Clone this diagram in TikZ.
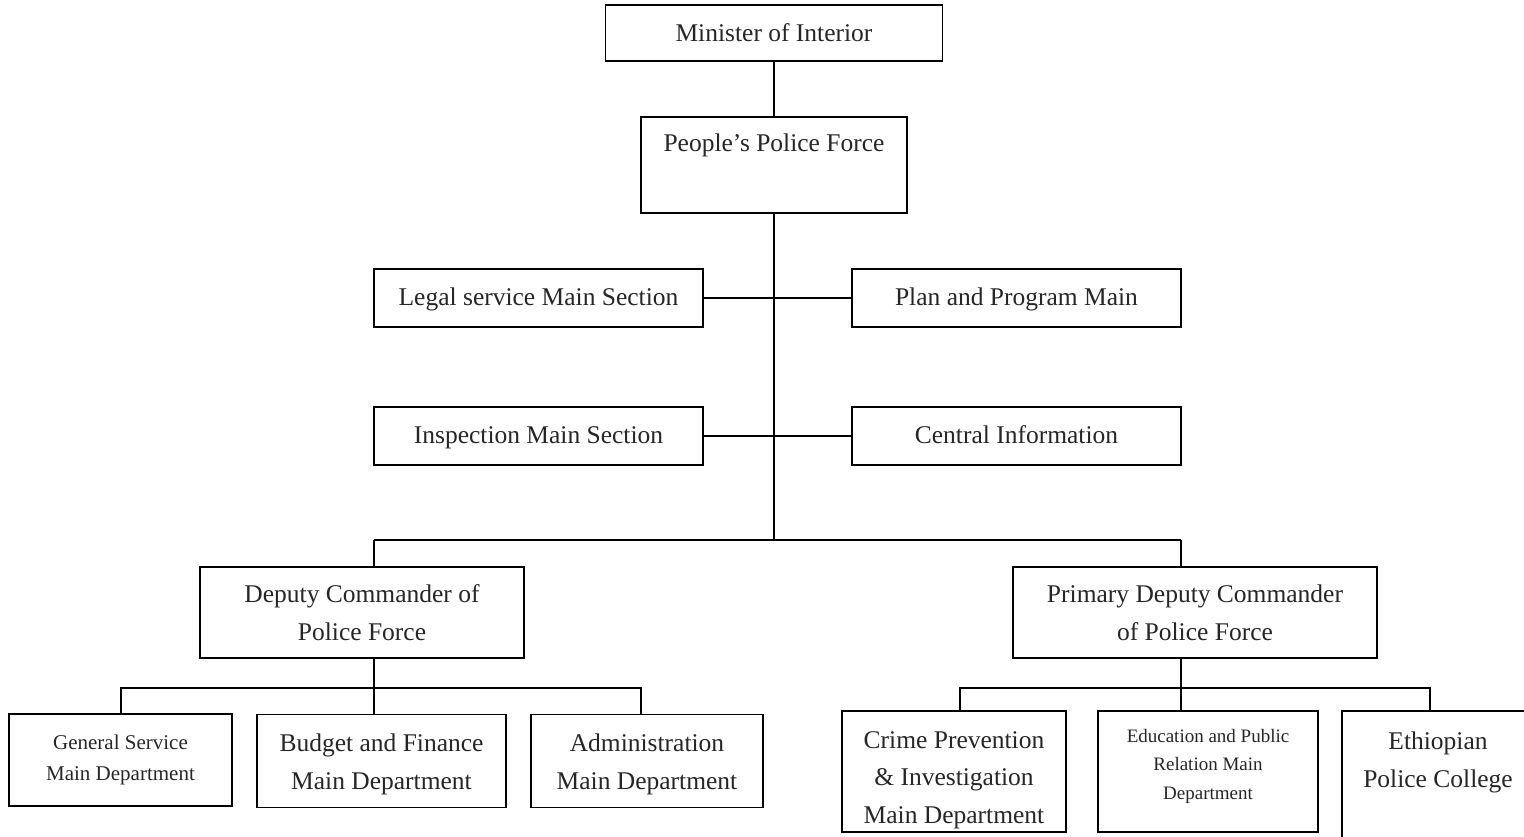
\documentclass[tikz,border=0pt]{standalone}
\usepackage{fontspec}
\setmainfont{Liberation Serif}
\tikzset{
  box/.style={draw, line width=1.5pt, inner sep=0pt, align=center, text=black!85},
  staff/.style={box, minimum width=329, minimum height=58, text height=17, text depth=2},
  wire/.style={line width=1.5pt},
  lbl/.style={inner sep=0pt, align=center, text=black!85},
}
\newcommand{\fA}{\fontsize{25.5}{38}\selectfont}
\begin{document}
\begin{tikzpicture}[x=1pt,y=-1pt]
\useasboundingbox (0,0) rectangle (1524,836);
% top
\node[box, minimum width=337, minimum height=56, font=\fA] (min) at (774,33) {Minister of Interior};
\node[box, minimum width=266, minimum height=96] (ppf) at (774,165) {};
\node[lbl, font=\fA, anchor=base] (ppft) at (774,151) {People’s Police Force};
% staff
\node[staff, font=\fA] (legal) at (538.5,298) {Legal service Main Section};
\node[staff, font=\fA] (plan) at (1016.5,298) {Plan and Program Main};
\node[staff, font=\fA] (insp) at (538.5,436) {Inspection Main Section};
\node[staff, font=\fA] (cent) at (1016.5,436) {Central Information};
% deputies
\node[box, minimum width=324, minimum height=91, font=\fA] (dep) at (362,612.5) {Deputy Commander of\\Police Force};
\node[box, minimum width=364, minimum height=91, font=\fA] (pdep) at (1195,612.5) {Primary Deputy Commander\\of Police Force};
% left departments
\node[box, minimum width=223, minimum height=92, font=\fontsize{21}{31}\selectfont] (gen) at (120.5,760) {General Service\\Main Department};
\node[box, minimum width=249, minimum height=93] (bud) at (381.5,761) {};
\node[lbl, font=\fA] (budt) at (381.5,764) {Budget and Finance\\Main Department};
\node[box, minimum width=232, minimum height=93] (adm) at (647,761) {};
\node[lbl, font=\fA] (admt) at (647,764) {Administration\\Main Department};
% right departments
\node[box, minimum width=224, minimum height=121] (crime) at (954,771.5) {};
\node[lbl, font=\fontsize{25.5}{37.5}\selectfont] (crimet) at (954,780) {Crime Prevention\\\& Investigation\\Main Department};
\node[box, minimum width=220, minimum height=121] (edu) at (1208,771.5) {};
\node[lbl, font=\fontsize{19}{28.5}\selectfont] (edut) at (1208,766) {Education and Public\\Relation Main\\Department};
\node[box, minimum width=200, minimum height=140] (eth) at (1442,781) {};
\node[lbl, font=\fontsize{25.5}{38}\selectfont] (etht) at (1438,762) {Ethiopian\\Police College};
% junctions
\coordinate (j1) at (774,540);
\coordinate (jd) at (374,540);
\coordinate (jp) at (1181,540);
\coordinate (jl) at (374,688);
\coordinate (jr) at (1181,688);
% connectors
\draw[wire] (min.south) -- (ppf.north);
\draw[wire] (ppf.south) -- (j1);
\draw[wire] (legal.east) -- (plan.west);
\draw[wire] (insp.east) -- (cent.west);
\draw[wire] (jd) -- (jp);
\draw[wire] (jd) -- (jd |- dep.north);
\draw[wire] (jp) -- (jp |- pdep.north);
% left sub
\draw[wire] (jd |- dep.south) -- (jd |- bud.north);
\draw[wire] (gen.north -| 121,0) |- (jl) -| (adm.north -| 641,0);
% right sub
\draw[wire] (jp |- pdep.south) -- (jp |- edu.north);
\draw[wire] (crime.north -| 960,0) |- (jr) -| (1430,711);
\end{tikzpicture}
\end{document}
